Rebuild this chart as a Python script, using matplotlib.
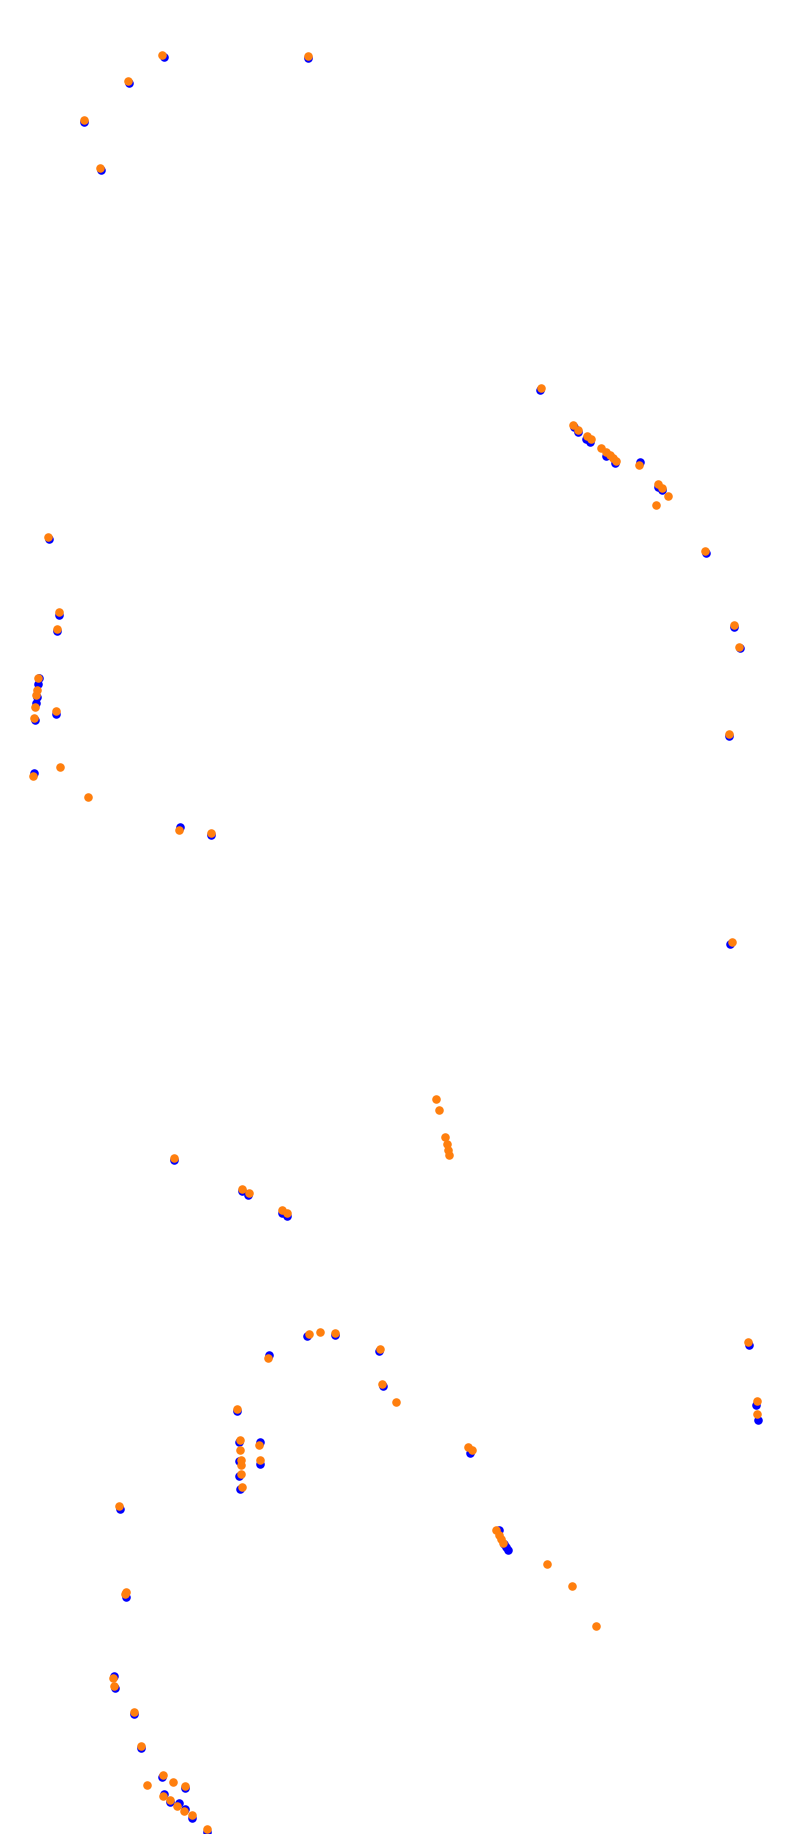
import matplotlib
matplotlib.use('Agg')
import matplotlib.pyplot as plt

# track points (x, y in image units, y grows downward)
orange_x = [162.3, 307.7, 127.7, 83.7, 99.7,
            541.0, 572.7, 578.3, 586.7, 590.7, 600.7, 606.0, 610.0, 613.3, 615.7,
            638.7, 657.7, 661.7, 667.7, 655.7,
            48.0, 59.0, 57.0, 38.0, 37.0, 35.7, 34.7, 33.7, 55.7, 59.7, 32.7, 87.7,
            704.7, 734.0, 738.7, 728.7,
            179.0, 210.7, 731.7,
            173.7, 242.0, 248.7, 281.7, 287.0,
            435.7, 439.0, 444.7, 446.7, 448.0, 449.0,
            308.7, 319.7, 334.7, 268.0, 380.0, 381.7, 395.7,
            236.7, 239.7, 259.0, 239.7, 240.7, 240.7, 260.0, 240.7, 241.7,
            468.3, 472.0, 495.7, 499.0, 500.7, 502.7, 546.7, 572.3, 595.7,
            748.0, 757.3, 757.3, 119.0, 125.5, 125.0,
            112.7, 114.0, 133.7, 141.0, 162.7, 172.7, 147.0, 185.0, 162.7, 170.3,
            177.3, 184.0, 192.3, 206.7]
orange_y = [54.7, 56.0, 81.0, 119.7, 167.7,
            387.7, 425.0, 430.0, 436.0, 439.3, 447.7, 452.0, 455.3, 458.3, 460.7,
            465.0, 483.7, 488.0, 495.7, 504.7,
            536.7, 612.0, 628.7, 677.7, 690.0, 695.0, 706.7, 718.0, 711.0, 767.0, 776.0, 797.3,
            550.7, 625.0, 646.7, 734.0,
            829.7, 833.0, 941.7,
            1158.0, 1189.0, 1192.7, 1209.7, 1213.3,
            1099.0, 1109.7, 1136.7, 1144.3, 1150.3, 1154.7,
            1333.7, 1332.0, 1332.7, 1357.7, 1348.7, 1384.0, 1401.7,
            1409.0, 1440.0, 1444.7, 1449.7, 1459.7, 1465.3, 1460.0, 1473.7, 1487.0,
            1447.3, 1450.0, 1530.3, 1534.7, 1538.7, 1542.7, 1564.0, 1585.9, 1625.7,
            1342.0, 1401.0, 1414.0, 1506.0, 1591.5, 1594.0,
            1678.3, 1685.7, 1712.0, 1745.7, 1775.0, 1782.0, 1785.0, 1785.7, 1795.7, 1799.7,
            1805.7, 1810.7, 1815.0, 1829.0]

blue_x = [163.7, 307.7, 129.0, 84.0, 101.0,
          539.7, 574.0, 578.0, 585.7, 590.0, 606.0, 614.7, 640.0, 657.7, 662.3,
          49.3, 58.7, 57.0, 39.3, 38.3, 37.3, 36.0, 34.7, 55.7, 34.0,
          706.0, 734.0, 740.0, 728.7,
          180.0, 210.7, 730.0,
          173.7, 241.7, 247.7, 281.7, 287.0,
          307.3, 334.7, 269.0, 379.0, 383.0,
          236.7, 238.7, 260.0, 239.0, 260.0, 239.3, 240.3,
          470.0, 499.0, 504.3, 506.0, 507.7,
          749.0, 756.0, 758.4, 119.5, 125.5,
          114.0, 115.0, 133.7, 141.0, 161.7, 185.0, 164.0, 170.3, 178.7, 185.3,
          191.7, 206.7]
blue_y = [56.7, 58.0, 83.0, 121.7, 169.7,
          390.0, 427.3, 432.3, 438.7, 442.0, 456.0, 463.3, 462.0, 486.7, 490.3,
          539.0, 614.7, 631.0, 678.3, 684.3, 696.7, 702.7, 720.0, 714.0, 773.3,
          553.0, 627.3, 648.3, 736.3,
          827.3, 835.3, 943.7,
          1160.3, 1191.3, 1195.3, 1213.3, 1215.7,
          1336.3, 1335.3, 1355.0, 1351.3, 1386.3,
          1411.3, 1442.0, 1442.3, 1461.0, 1463.7, 1476.0, 1489.3,
          1452.7, 1530.3, 1544.0, 1546.7, 1550.3,
          1345.0, 1404.5, 1419.7, 1508.5, 1597.0,
          1676.0, 1688.0, 1714.3, 1748.3, 1777.0, 1788.3, 1793.7, 1802.0, 1803.3, 1809.0,
          1818.0, 1831.7]

fig = plt.figure(figsize=(7.9, 18.34), dpi=100)
ax = fig.add_axes([0, 0, 1, 1])
ax.scatter(blue_x, blue_y, s=38, color='#0000ff', linewidths=0, zorder=2)
ax.scatter(orange_x, orange_y, s=38, color='#ff7f0e', linewidths=0, zorder=3)
ax.set_xlim(0, 790)
ax.set_ylim(1834, 0)
ax.axis('off')

fig.savefig('out.png', dpi=100, facecolor='white')
